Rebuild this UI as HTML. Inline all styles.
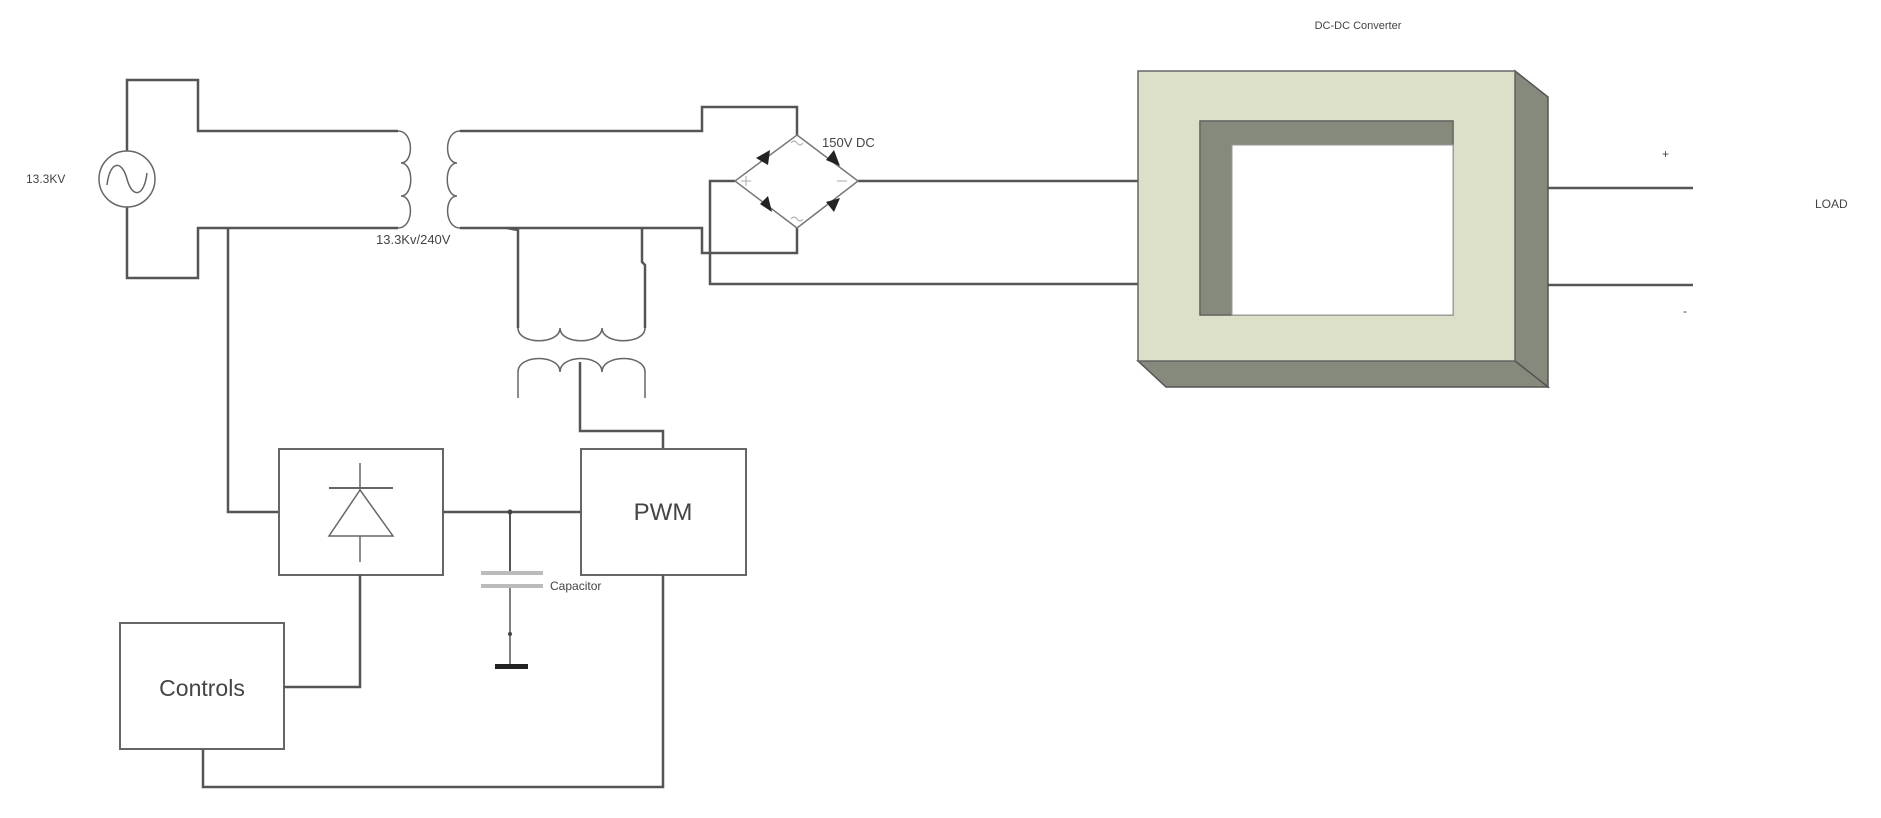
<!DOCTYPE html>
<html><head><meta charset="utf-8"><style>
html,body{margin:0;padding:0;background:#fff;}
svg{display:block;}
text{font-family:"Liberation Sans",sans-serif;fill:#444;}
</style></head><body>
<svg width="1881" height="818" viewBox="0 0 1881 818" xmlns="http://www.w3.org/2000/svg">
<g fill="none" stroke="#555" stroke-width="2.5">
<polyline points="127,151 127,80 198,80 198,131 398,131"/>
<polyline points="127,207 127,278 198,278 198,228 398,228"/>
<circle cx="127" cy="179" r="28" stroke="#666" stroke-width="1.5"/>
<path d="M107,185 C110,160 122,160 127,179 C132,198 144,198 147,173" stroke="#666" stroke-width="1.5"/>
<path d="M398,131 C414,131 414,163 401,163 C414,163 414,196 401,196 C414,196 414,228 398,228" stroke="#666" stroke-width="1.5"/>
<path d="M460,131 C444,131 444,163 457,163 C444,163 444,196 457,196 C444,196 444,228 460,228" stroke="#666" stroke-width="1.5"/>
<polyline points="460,131 702,131 702,107 797,107 797,135"/>
<polyline points="460,228 702,228 702,253 797,253 797,228"/>
<polyline points="735,181 710,181 710,284 1138,284"/>
<line x1="858" y1="181" x2="1138" y2="181"/>
<polygon points="797,135 858,181 797,228 735,181" stroke="#777" stroke-width="1.5"/>
<polyline points="507,228 518,230 518,328"/>
<polyline points="642,228 642,262 645,265 645,328"/>
<path d="M518,328 C518,345 560,345 560,328 C560,345 602,345 602,328 C602,345 645,345 645,328" stroke="#666" stroke-width="1.5"/>
<path d="M518,398 L518,372 C518,354 560,354 560,372 C560,354 602,354 602,372 C602,354 645,354 645,372 L645,398" stroke="#666" stroke-width="1.5"/>
<polyline points="580,362 580,431 663,431 663,449"/>
<polyline points="228,228 228,512 279,512"/>
<rect x="279" y="449" width="164" height="126" stroke="#666" stroke-width="2"/>
<rect x="581" y="449" width="165" height="126" stroke="#666" stroke-width="2"/>
<rect x="120" y="623" width="164" height="126" stroke="#666" stroke-width="2"/>
<line x1="443" y1="512" x2="581" y2="512"/>
<line x1="510" y1="512" x2="510" y2="572" stroke-width="2"/>
<line x1="510" y1="588" x2="510" y2="665" stroke-width="1.5"/>
<polyline points="663,575 663,787 203,787 203,749"/>
<polyline points="360,575 360,687 284,687"/>
<line x1="360" y1="463" x2="360" y2="562" stroke="#666" stroke-width="1.5"/>
<line x1="329" y1="488" x2="393" y2="488" stroke="#666" stroke-width="2"/>
<polygon points="360,490 329,536 393,536" stroke="#666" stroke-width="1.5" fill="#fff"/>
</g>
<rect x="481" y="571" width="62" height="4" fill="#bbb"/>
<rect x="481" y="584" width="62" height="4" fill="#bbb"/>
<circle cx="510" cy="512" r="2.5" fill="#444"/>
<circle cx="510" cy="634" r="2" fill="#444"/>
<rect x="495" y="664" width="33" height="5" fill="#222"/>
<g fill="#222">
<polygon points="756,158 770,150 768,165"/>
<polygon points="834,150 840,166 826,160"/>
<polygon points="760,204 768,196 772,212"/>
<polygon points="834,212 826,202 840,198"/>
</g>
<g stroke="#aaa" stroke-width="1" fill="none">
<line x1="741" y1="181" x2="751" y2="181"/><line x1="746" y1="176" x2="746" y2="186"/>
<line x1="837" y1="181" x2="847" y2="181"/>
<path d="M791,143 q3,-4 6,0 t6,0"/><path d="M791,219 q3,-4 6,0 t6,0"/>
</g>
<polygon points="1515,71 1548,97 1548,387 1515,361" fill="#868a7c" stroke="#555" stroke-width="1.5"/>
<polygon points="1138,361 1515,361 1548,387 1166,387" fill="#868a7c" stroke="#555" stroke-width="1.5"/>
<path d="M1138,71 H1515 V361 H1138 Z M1200,121 V315 H1453 V121 Z" fill="#dde0c8" fill-rule="evenodd" stroke="#666" stroke-width="1.5"/>
<polygon points="1200,121 1453,121 1453,145 1232,145 1232,315 1200,315" fill="#868a7c" stroke="#555" stroke-width="1"/>
<rect x="1232" y="145" width="221" height="170" fill="#fff" stroke="#999" stroke-width="1"/>
<g stroke="#555" stroke-width="2.5">
<line x1="1548" y1="188" x2="1693" y2="188"/>
<line x1="1548" y1="285" x2="1693" y2="285"/>
</g>
<text x="26" y="183" font-size="12">13.3KV</text>
<text x="376" y="244" font-size="13">13.3Kv/240V</text>
<text x="822" y="147" font-size="13">150V DC</text>
<text x="550" y="590" font-size="12">Capacitor</text>
<text x="663" y="520" font-size="24" text-anchor="middle" fill="#333">PWM</text>
<text x="202" y="696" font-size="23" text-anchor="middle" fill="#333">Controls</text>
<text x="1358" y="29" font-size="11" text-anchor="middle">DC-DC Converter</text>
<text x="1662" y="158" font-size="12">+</text>
<text x="1683" y="315" font-size="12">-</text>
<text x="1815" y="208" font-size="12">LOAD</text>
</svg>
</body></html>
